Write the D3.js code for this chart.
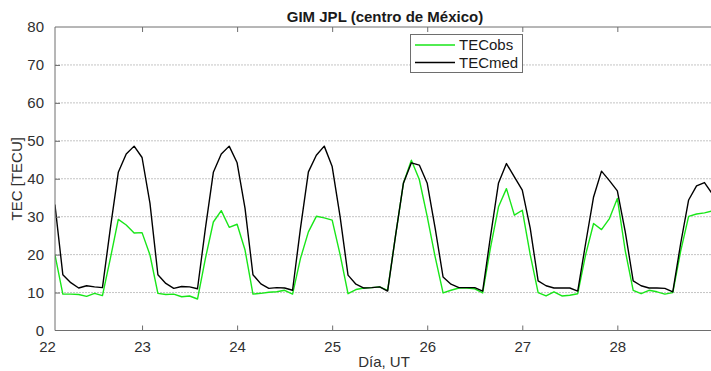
<!DOCTYPE html>
<html>
<head>
<meta charset="utf-8">
<script src="https://cdn.jsdelivr.net/npm/d3@7"></script>
<style>
  html, body { margin: 0; padding: 0; background: #fff; }
  svg { display: block; font-family: "Liberation Sans", Arial, sans-serif; }
</style>
</head>
<body>
<svg id="chart" width="711" height="371"></svg>
<script>
// Two-hourly TEC samples, 22 02 UT through 29 00 UT (12 per day)
const startDay = 22;
const stepsPerDay = 12;

const tecObs = [
  20.0, 9.6, 9.6, 9.5, 9.0, 9.8, 9.2, 19.0, 29.3, 27.8, 25.7, 25.8,
  19.9, 9.8, 9.5, 9.6, 8.9, 9.1, 8.3, 19.0, 28.6, 31.6, 27.2, 28.0,
  21.2, 9.6, 9.8, 10.1, 10.2, 10.6, 9.6, 19.0, 26.0, 30.1, 29.7, 29.1,
  20.0, 9.7, 10.8, 11.2, 11.3, 11.5, 10.6, 25.0, 38.9, 44.9, 39.8, 30.0,
  19.4, 9.9, 10.6, 11.2, 11.2, 11.0, 9.9, 22.0, 32.6, 37.4, 30.4, 31.7,
  20.0, 10.0, 9.1, 10.2, 9.1, 9.3, 9.7, 20.0, 28.2, 26.6, 29.5, 34.8,
  21.0, 10.6, 9.7, 10.6, 10.2, 9.6, 10.0, 21.0, 30.1, 30.7, 31.0, 31.5
];

const tecMed = [
  33.2, 14.7, 12.6, 11.2, 11.8, 11.5, 11.3, 27.0, 41.7, 46.5, 48.6, 45.6,
  33.5, 14.7, 12.4, 11.1, 11.6, 11.5, 11.0, 27.0, 41.7, 46.5, 48.6, 44.2,
  32.2, 14.7, 12.3, 11.1, 11.3, 11.2, 10.6, 27.0, 41.8, 46.2, 48.6, 43.2,
  30.0, 14.6, 12.2, 11.2, 11.3, 11.5, 10.4, 25.0, 38.9, 44.2, 43.6, 38.8,
  27.0, 14.1, 12.2, 11.3, 11.3, 11.3, 10.4, 25.0, 38.9, 44.0, 40.5, 37.0,
  27.0, 13.1, 11.8, 11.2, 11.2, 11.2, 10.4, 23.0, 35.2, 42.0, 39.5, 36.8,
  26.0, 13.1, 11.8, 11.2, 11.2, 11.1, 10.2, 23.0, 34.4, 38.1, 39.0, 36.0
];

const dayTicks = [22, 23, 24, 25, 26, 27, 28];
const tecTicks = [0, 10, 20, 30, 40, 50, 60, 70, 80];
const seriesNames = ["TECobs", "TECmed"];
const seriesColors = ["#19e619", "#000000"];

const titleText = "GIM JPL (centro de México)";
const xLabel = "Día, UT";
const yLabel = "TEC [TECU]";

// sample times in fractional days
const times = tecObs.map((_, i) => startDay + (i + 1) / stepsPerDay);

const svg = d3.select("#chart");
const plotLeft = 55, plotRight = 711, plotTop = 27, plotBottom = 330.5;

const x = d3.scaleLinear().domain([22, 29]).range([47, 712.4]);
const y = d3.scaleLinear().domain([0, 80]).range([plotBottom, plotTop]);

svg.append("defs").append("clipPath").attr("id", "plotClip")
  .append("rect")
  .attr("x", plotLeft).attr("y", plotTop - 2)
  .attr("width", plotRight - plotLeft).attr("height", plotBottom - plotTop + 4);

// horizontal grid
svg.append("g")
  .selectAll("line")
  .data(tecTicks.filter(t => t > 0 && t < 80))
  .join("line")
  .attr("x1", plotLeft).attr("x2", plotRight)
  .attr("y1", d => y(d)).attr("y2", d => y(d))
  .attr("stroke", "#c4c4c4")
  .attr("stroke-width", 1)
  .attr("stroke-dasharray", "2,1");

// series lines
const line = d3.line().x((d, i) => x(times[i])).y(d => y(d));
const lines = svg.append("g").attr("clip-path", "url(#plotClip)");
[tecObs, tecMed].forEach((vals, k) => {
  lines.append("path")
    .datum(vals)
    .attr("fill", "none")
    .attr("stroke", seriesColors[k])
    .attr("stroke-width", 1.4)
    .attr("stroke-linejoin", "round")
    .attr("d", line);
});

// axes
const axisColor = "#6e6e6e";
const labelColor = "#303030";
const tickFont = "15px";

const xAxis = svg.append("g")
  .attr("transform", `translate(0,${plotBottom})`)
  .call(d3.axisBottom(x).tickValues(dayTicks).tickFormat(d3.format("d")).tickSize(-5).tickPadding(11));
xAxis.select(".domain").remove();
xAxis.selectAll(".tick line").attr("stroke", axisColor).attr("display", d => d <= 22 ? "none" : null);
xAxis.selectAll(".tick text")
  .attr("fill", labelColor)
  .attr("font-size", tickFont)
  .attr("font-family", "'Liberation Sans', Arial, sans-serif");

const xTop = svg.append("g")
  .attr("transform", `translate(0,${plotTop})`)
  .call(d3.axisTop(x).tickValues(dayTicks.filter(d => d > 22)).tickFormat("").tickSize(-5));
xTop.select(".domain").remove();
xTop.selectAll(".tick line").attr("stroke", axisColor);

const yAxis = svg.append("g")
  .attr("transform", `translate(${plotLeft},0)`)
  .call(d3.axisLeft(y).tickValues(tecTicks).tickFormat(d3.format("d")).tickSize(-5).tickPadding(11));
yAxis.select(".domain").remove();
yAxis.selectAll(".tick line").attr("stroke", axisColor)
  .attr("display", d => (d === 0 || d === 80) ? "none" : null);
yAxis.selectAll(".tick text")
  .attr("fill", labelColor)
  .attr("font-size", tickFont)
  .attr("font-family", "'Liberation Sans', Arial, sans-serif");

// axis border lines
svg.append("line").attr("x1", plotLeft).attr("x2", plotRight)
  .attr("y1", plotBottom).attr("y2", plotBottom).attr("stroke", axisColor);
svg.append("line").attr("x1", plotLeft).attr("x2", plotRight)
  .attr("y1", plotTop).attr("y2", plotTop).attr("stroke", axisColor);
svg.append("line").attr("x1", plotLeft).attr("x2", plotLeft)
  .attr("y1", plotTop).attr("y2", plotBottom).attr("stroke", axisColor);

// title and axis labels
svg.append("text")
  .attr("x", 385).attr("y", 22)
  .attr("text-anchor", "middle")
  .attr("font-weight", "bold")
  .attr("font-size", "15px")
  .attr("fill", "#1a1a1a")
  .text(titleText);

svg.append("text")
  .attr("x", 384).attr("y", 367)
  .attr("text-anchor", "middle")
  .attr("font-size", tickFont)
  .attr("fill", labelColor)
  .text(xLabel);

svg.append("text")
  .attr("transform", `translate(22,${(plotTop + plotBottom) / 2}) rotate(-90)`)
  .attr("text-anchor", "middle")
  .attr("font-size", tickFont)
  .attr("fill", labelColor)
  .text(yLabel);

// legend
const legend = svg.append("g");
legend.append("rect")
  .attr("x", 410.5).attr("y", 34.5).attr("width", 112).attr("height", 38)
  .attr("fill", "#fff").attr("stroke", axisColor);
seriesNames.forEach((name, k) => {
  const ly = 45 + k * 17.5;
  legend.append("line")
    .attr("x1", 415).attr("x2", 455).attr("y1", ly).attr("y2", ly)
    .attr("stroke", seriesColors[k]).attr("stroke-width", 1.4);
  legend.append("text")
    .attr("x", 459).attr("y", ly + 5)
    .attr("font-size", tickFont)
    .attr("fill", "#1a1a1a")
    .text(name);
});
</script>
</body>
</html>
